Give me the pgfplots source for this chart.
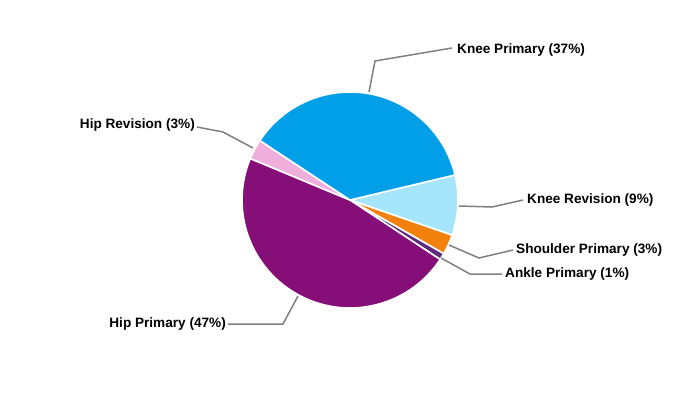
\documentclass[border=0pt]{standalone}
\usepackage{pgfplots}
\usepackage{pgfplotstable}
\pgfplotsset{compat=1.18}
\usepackage{fontspec}
\setmainfont{Liberation Sans}
\definecolor{sl0}{HTML}{A5E6FC}
\definecolor{sl1}{HTML}{F2800D}
\definecolor{sl2}{HTML}{5E2A7E}
\definecolor{sl3}{HTML}{860E79}
\definecolor{sl4}{HTML}{F0AEDD}
\definecolor{sl5}{HTML}{009FE8}
\definecolor{leader}{HTML}{808080}
\pgfplotstableread{
name value
{Knee Revision} 9
{Shoulder Primary} 3
{Ankle Primary} 1
{Hip Primary} 47
{Hip Revision} 3
{Knee Primary} 37
}\piedata
\begin{document}
\begin{tikzpicture}
\def\cum{13.4}
\pgfplotsforeachungrouped \i in {0,...,5}{%
  \pgfplotstablegetelem{\i}{value}\of\piedata
  \pgfmathsetmacro\endang{\cum-3.6*\pgfplotsretval}%
  \expandafter\xdef\csname sa\i\endcsname{\cum}%
  \expandafter\xdef\csname ea\i\endcsname{\endang}%
  \xdef\cum{\endang}%
}
\begin{axis}[x=1pt, y=1pt, xmin=0, xmax=700, ymin=0, ymax=400,
  hide axis, clip=false, scale only axis]
\addplot[draw=none, forget plot] coordinates {(0,0) (700,400)};
\pgfplotsinvokeforeach{0,...,5}{
  \fill[fill=sl#1, draw=white, line width=1.6pt, line join=round]
    (axis cs:350,200) -- ++(\csname sa#1\endcsname:108pt)
    arc[start angle=\csname sa#1\endcsname, end angle=\csname ea#1\endcsname, radius=108pt] -- cycle;
}
\begin{scope}[draw=leader, line width=1.5pt]
\draw (axis cs:369,308) -- (axis cs:375,339) -- (axis cs:452,352);
\draw (axis cs:253,252) -- (axis cs:223,268) -- (axis cs:197,273);
\draw (axis cs:459,194) -- (axis cs:492,193) -- (axis cs:523,200);
\draw (axis cs:449,155) -- (axis cs:479,142) -- (axis cs:513,150);
\draw (axis cs:441,142) -- (axis cs:470,126) -- (axis cs:502,126);
\draw (axis cs:298,104) -- (axis cs:283,76) -- (axis cs:228,76);
\end{scope}
\begin{scope}[font=\fontsize{13.6}{15}\selectfont\bfseries, inner sep=0pt]
\node[anchor=west] at (axis cs:457,350) {Knee Primary (37\%)};
\node[anchor=east] at (axis cs:195,275) {Hip Revision (3\%)};
\node[anchor=west] at (axis cs:527,200) {Knee Revision (9\%)};
\node[anchor=west] at (axis cs:516,150) {Shoulder Primary (3\%)};
\node[anchor=west] at (axis cs:505,126) {Ankle Primary (1\%)};
\node[anchor=east] at (axis cs:226,76) {Hip Primary (47\%)};
\end{scope}
\end{axis}
\end{tikzpicture}
\end{document}
